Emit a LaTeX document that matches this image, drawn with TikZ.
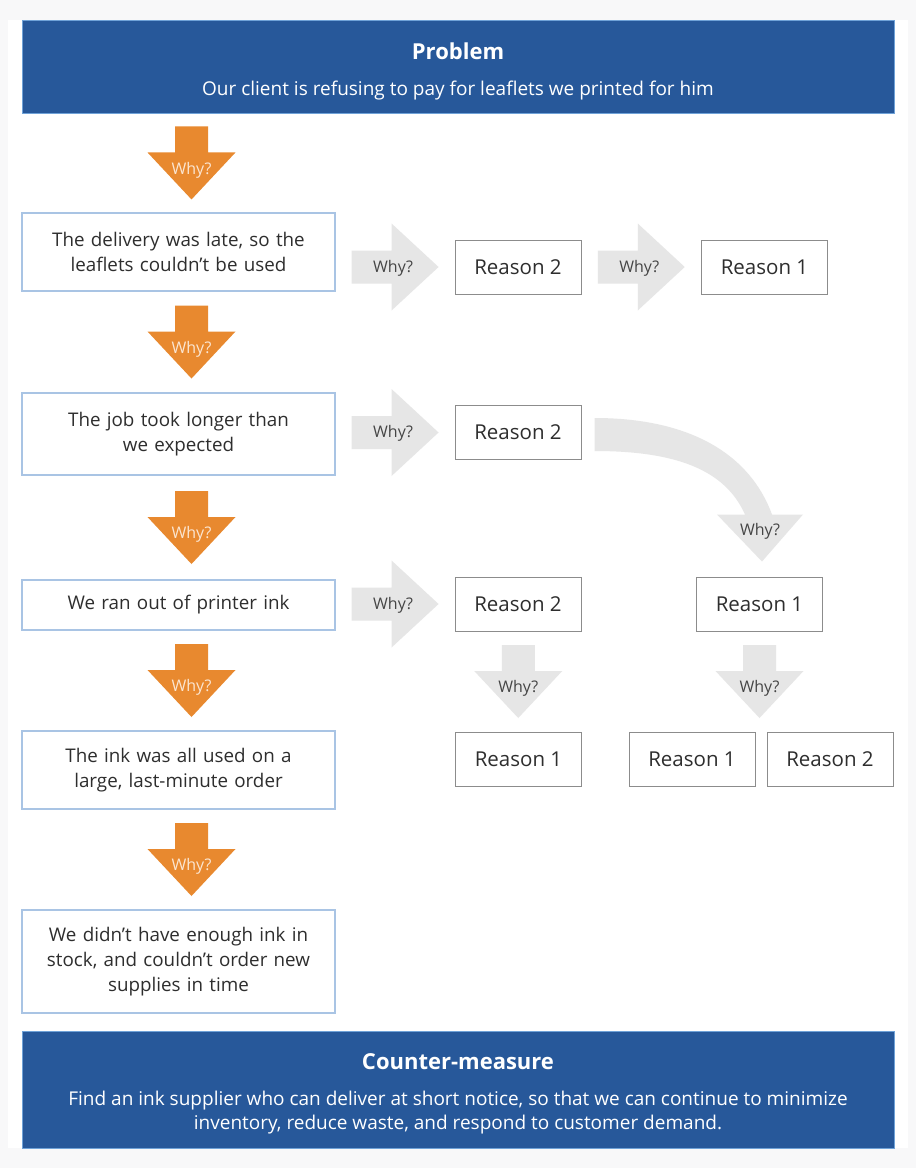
\documentclass[tikz,border=0pt]{standalone}
\usepackage{fontspec}
\setmainfont{Open Sans}
\usetikzlibrary{calc}

\definecolor{bannerblue}{HTML}{27589A}
\definecolor{bannerline}{HTML}{6FA2D8}
\definecolor{whyorange}{HTML}{E8892F}
\definecolor{whylight}{HTML}{FBE6D2}
\definecolor{whygray}{HTML}{E6E6E6}
\definecolor{whytext}{HTML}{454545}
\definecolor{stepline}{HTML}{A9C4E4}
\definecolor{reasonline}{HTML}{8C8C8C}
\definecolor{textgray}{HTML}{2E2E2E}
\definecolor{pagegray}{HTML}{F8F8F9}

\tikzset{
  banner/.style={fill=bannerblue, draw=bannerline, line width=1pt, minimum width=872pt},
  bannertext/.style={text=white, align=center, inner sep=0pt, font=\fontsize{19}{24}\selectfont},
  stepbox/.style={draw=stepline, line width=1.2pt, fill=white, minimum width=313pt,
    text width=300pt, align=center, text=textgray, font=\fontsize{18.8}{25}\selectfont, inner sep=0pt},
  reasonbox/.style={draw=reasonline, line width=1pt, fill=white, minimum width=126pt,
    minimum height=54pt, text=textgray, font=\fontsize{20.5}{22}\selectfont},
  whyfont/.style={font=\fontsize{16}{16}\selectfont, inner sep=0pt},
  pics/whydown/.style n args={2}{code={
    \fill[#1] (-16.5,-36.5) -- (16.5,-36.5) -- (16.5,-10.5) -- (44,-10.5) -- (0,36.5)
      -- (-44,-10.5) -- (-16.5,-10.5) -- cycle;
    \node[whyfont, text=#2] (-lbl) at (0,7) {Why?};
  }},
  pics/whyright/.style={code={
    \fill[whygray] (-43.5,-16.5) -- (-3.5,-16.5) -- (-3.5,-43.5) -- (43.5,0) -- (-3.5,43.5)
      -- (-3.5,16.5) -- (-43.5,16.5) -- cycle;
    \node[whyfont, text=whytext] (-lbl) at (-2,1) {Why?};
  }}
}

\begin{document}
\begin{tikzpicture}[x=1pt,y=-1pt]
    \useasboundingbox (0,0) rectangle (916,1168);
    \fill[pagegray] (0,0) rectangle (916,1168);
    \fill[white] (8,20) rectangle (908,1148);

    \node[banner, minimum height=93pt] (problem) at (458,66.5) {};
    \node[bannertext] (problemtxt) at ($(problem.center)+(0,4.5)$)
      {{\bfseries\fontsize{22}{24}\selectfont Problem}\\[12pt]Our client is refusing to pay for leaflets we printed for him};

    \node[stepbox, minimum height=78pt] (d1) at (178.5,252) {The delivery was late, so the\\leaflets couldn’t be used};
    \node[stepbox, minimum height=82pt] (d2) at (178.5,434) {The job took longer than\\we expected};
    \node[stepbox, minimum height=50pt] (d3) at (178.5,605) {We ran out of printer ink};
    \node[stepbox, minimum height=78pt] (d4) at (178.5,770) {The ink was all used on a\\large, last-minute order};
    \node[stepbox, minimum height=103pt] (d5) at (178.5,961.5) {We didn’t have enough ink in\\stock, and couldn’t order new\\supplies in time};

    \node[banner, minimum height=117pt] (counter) at (458,1089.5) {};
    \node[bannertext] (countertxt) at ($(counter.center)+(0,4)$)
      {{\bfseries\fontsize{22}{24}\selectfont Counter-measure}\\[12pt]Find an ink supplier who can deliver at short notice, so that we can continue to minimize\\inventory, reduce waste, and respond to customer demand.};

    \node[reasonbox] (r1a) at (518,267) {Reason 2};
    \node[reasonbox] (r1b) at (764.5,267) {Reason 1};
    \node[reasonbox] (r2a) at (518,432.5) {Reason 2};
    \node[reasonbox] (r3a) at (518,604) {Reason 2};
    \node[reasonbox] (r3b) at (759.5,604) {Reason 1};
    \node[reasonbox] (r4a) at (518.5,759) {Reason 1};
    \node[reasonbox] (r4b) at (692,759) {Reason 1};
    \node[reasonbox] (r4c) at (830,759) {Reason 2};

    \pic (w0) at ($(d1.north |- problem.south)!0.5!(d1.north)+(13,0)$) {whydown={whyorange}{whylight}};
    \pic (w1) at ($(d1.south)!0.5!(d2.north)+(13,0)$) {whydown={whyorange}{whylight}};
    \pic (w2) at ($(d2.south)!0.5!(d3.north)+(13,0)$) {whydown={whyorange}{whylight}};
    \pic (w3) at ($(d3.south)!0.5!(d4.north)+(13,0)$) {whydown={whyorange}{whylight}};
    \pic (w4) at ($(d4.south)!0.5!(d5.north)+(13,0)$) {whydown={whyorange}{whylight}};

    \pic (a1) at ($(d1.east |- r1a.west)!0.5!(r1a.west)$) {whyright};
    \pic (a2) at ($(r1a.east)!0.5!(r1b.west)$) {whyright};
    \pic (a3) at ($(d2.east |- r2a.west)!0.5!(r2a.west)$) {whyright};
    \pic (a4) at ($(d3.east |- r3a.west)!0.5!(r3a.west)$) {whyright};

    \pic (b1) at ($(r3a.south)!0.5!(r4a.north)$) {whydown={whygray}{whytext}};
    \pic (b2) at ($(r3b.south)!0.5!(r4b.north -| r3b.south)$) {whydown={whygray}{whytext}};

    \coordinate (cs) at ($(r2a.east)+(13,0)$);
    \coordinate (ct) at ($(r3b.north)+(2.5,-15)$);
    \fill[whygray] ($(cs)+(0,-14.5)$) .. controls ($(cs)+(96,-14.5)$) and ($(ct)+(-12,-107)$) .. ($(ct)+(10,-47)$)
      -- ($(ct)+(41,-47)$) -- (ct) -- ($(ct)+(-45,-47)$) -- ($(ct)+(-17,-47)$)
      .. controls ($(ct)+(-37,-92)$) and ($(cs)+(81,18.5)$) .. ($(cs)+(0,18.5)$) -- cycle;
    \node[whyfont, text=whytext] (cwhy) at ($(ct)+(-2,-30)$) {Why?};
\end{tikzpicture}
\end{document}
